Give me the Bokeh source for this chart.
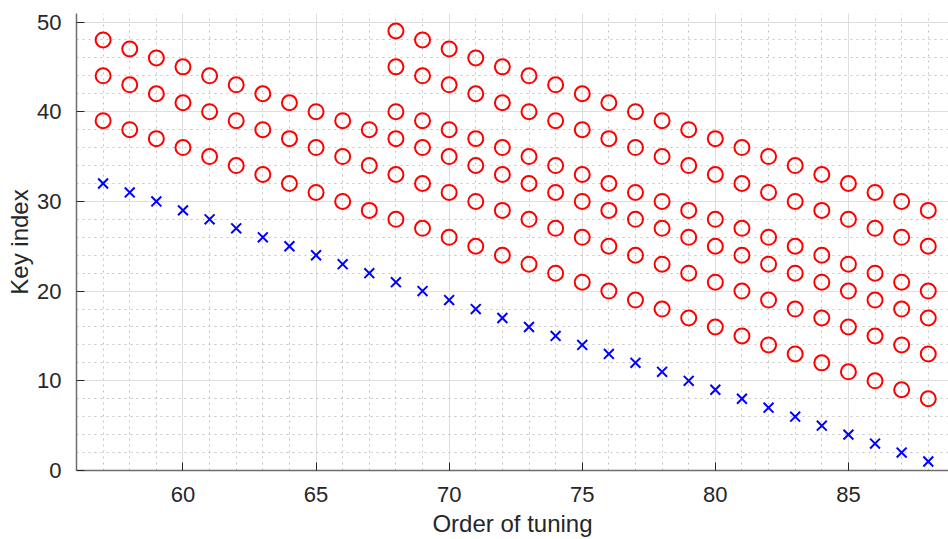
from bokeh.plotting import figure
from bokeh.models import Range1d, FixedTicker
from bokeh.embed import file_html
from bokeh.resources import INLINE

# Order in which the strings are tuned
order = [57, 58, 59, 60, 61, 62, 63, 64, 65, 66, 67, 68, 69, 70, 71, 72,
         73, 74, 75, 76, 77, 78, 79, 80, 81, 82, 83, 84, 85, 86, 87, 88]

# Key being tuned at each step
tuned_key = [32, 31, 30, 29, 28, 27, 26, 25, 24, 23, 22, 21, 20, 19, 18, 17,
             16, 15, 14, 13, 12, 11, 10, 9, 8, 7, 6, 5, 4, 3, 2, 1]

# Reference keys already tuned (checked intervals), whole run
ref_a = [39, 38, 37, 36, 35, 34, 33, 32, 31, 30, 29, 28, 27, 26, 25, 24,
         23, 22, 21, 20, 19, 18, 17, 16, 15, 14, 13, 12, 11, 10, 9, 8]
ref_b = [44, 43, 42, 41, 40, 39, 38, 37, 36, 35, 34, 33, 32, 31, 30, 29,
         28, 27, 26, 25, 24, 23, 22, 21, 20, 19, 18, 17, 16, 15, 14, 13]
ref_c = [48, 47, 46, 45, 44, 43, 42, 41, 40, 39, 38, 37, 36, 35, 34, 33,
         32, 31, 30, 29, 28, 27, 26, 25, 24, 23, 22, 21, 20, 19, 18, 17]

# Extra reference keys, available from step 68 on
order_late = [68, 69, 70, 71, 72, 73, 74, 75, 76, 77, 78, 79, 80, 81, 82,
              83, 84, 85, 86, 87, 88]
ref_d = [40, 39, 38, 37, 36, 35, 34, 33, 32, 31, 30, 29, 28, 27, 26, 25,
         24, 23, 22, 21, 20]
ref_e = [45, 44, 43, 42, 41, 40, 39, 38, 37, 36, 35, 34, 33, 32, 31, 30,
         29, 28, 27, 26, 25]
ref_f = [49, 48, 47, 46, 45, 44, 43, 42, 41, 40, 39, 38, 37, 36, 35, 34,
         33, 32, 31, 30, 29]

x_ticks = [60, 65, 70, 75, 80, 85]
y_ticks = [0, 10, 20, 30, 40, 50]

FONT = "Liberation Sans"
TEXT = "#262626"

p = figure(width=948, height=539, output_backend="svg", toolbar_location=None,
           x_range=Range1d(56, 88.76), y_range=Range1d(0, 50.95),
           min_border_left=76, min_border_right=0, min_border_top=13,
           min_border_bottom=69)
p.outline_line_color = None
p.background_fill_color = "white"
p.border_fill_color = "white"

p.xaxis.ticker = FixedTicker(ticks=x_ticks, minor_ticks=list(range(56, 89)))
p.yaxis.ticker = FixedTicker(ticks=y_ticks, minor_ticks=list(range(0, 52, 2)))

for ax in (p.xaxis[0], p.yaxis[0]):
    ax.axis_line_color = "#6e6e6e"
    ax.axis_line_width = 1.5
    ax.major_tick_in = 8
    ax.major_tick_out = 0
    ax.major_tick_line_color = "#262626"
    ax.major_tick_line_width = 1
    ax.minor_tick_line_color = None
    ax.major_label_text_font = FONT
    ax.major_label_text_font_size = "22px"
    ax.major_label_text_color = TEXT
    ax.axis_label_text_font = FONT
    ax.axis_label_text_font_size = "24px"
    ax.axis_label_text_font_style = "normal"
    ax.axis_label_text_color = TEXT

p.xaxis.axis_label = "Order of tuning"
p.yaxis.axis_label = "Key index"
p.xaxis.major_label_standoff = 12
p.yaxis.major_label_standoff = 11
p.xaxis.axis_label_standoff = 5
p.yaxis.axis_label_standoff = 1

for g in (p.xgrid[0], p.ygrid[0]):
    g.grid_line_color = "#dedede"
    g.grid_line_width = 1
    g.minor_grid_line_color = "#c4c4c4"
    g.minor_grid_line_dash = "2 4"
    g.minor_grid_line_width = 1

circle_style = dict(size=15, fill_color=None, line_color="#ff0000", line_width=2)
for ys in (ref_a, ref_b, ref_c):
    p.scatter(x=order, y=ys, marker="circle", **circle_style)
for ys in (ref_d, ref_e, ref_f):
    p.scatter(x=order_late, y=ys, marker="circle", **circle_style)

p.scatter(x=order, y=tuned_key, marker="x", size=14, line_color="#0000ff",
          line_width=2)

open("out.html", "w").write(file_html(p, INLINE))
